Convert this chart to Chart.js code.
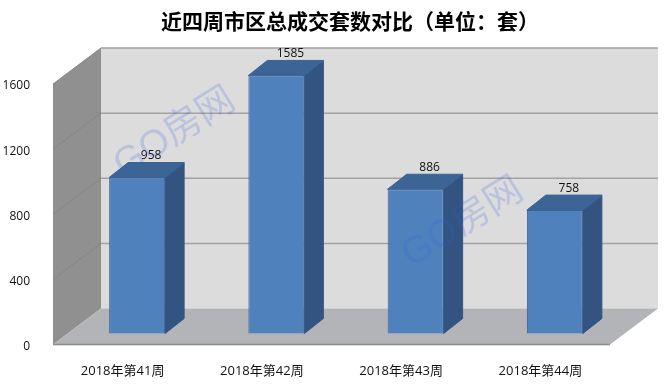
<!DOCTYPE html>
<html><head><meta charset="utf-8">
<style>html,body{margin:0;padding:0;background:#fff}canvas{display:block}</style>
<script src="https://cdn.jsdelivr.net/npm/chart.js@4"></script>
</head><body><canvas id="c" width="667" height="385"></canvas>
<script>
const categories = ['2018年第41周','2018年第42周','2018年第43周','2018年第44周'];
const values = [958,1585,886,758];
const titleText = '近四周市区总成交套数对比（单位：套）';
const watermarkText = 'GO房网';
const yMax = 1600, yStep = 400;

const DEPTH = {x:48, y:-36};           // wall depth
const BAR_SHIFT = {x:14.5, y:-11};     // bar position inside the depth
const BAR_DEPTH = {x:19, y:-15};       // bar own depth
const UI = '"Open Sans","Noto Sans CJK SC",sans-serif';

function poly(ctx, pts, fill, stroke, lw){
  ctx.beginPath();
  pts.forEach((p,i)=> i?ctx.lineTo(p[0],p[1]):ctx.moveTo(p[0],p[1]));
  ctx.closePath();
  if(fill){ctx.fillStyle=fill;ctx.fill();}
  if(stroke){ctx.strokeStyle=stroke;ctx.lineWidth=lw||1;ctx.stroke();}
}
const room = {
  id:'room',
  afterLayout(chart){
    chart.titleBlock.left += 45; chart.titleBlock.right += 45;
  },
  beforeDatasetsDraw(chart){
    const {ctx,chartArea:a,scales:{y}} = chart;
    const dx=DEPTH.x, dy=DEPTH.y;
    ctx.save();
    poly(ctx,[[a.left+dx,a.top+dy],[a.right+dx,a.top+dy],[a.right+dx,a.bottom+dy],[a.left+dx,a.bottom+dy]],'#dcdcdc');
    poly(ctx,[[a.left,a.top],[a.left+dx,a.top+dy],[a.left+dx,a.bottom+dy],[a.left,a.bottom]],'#909090');
    poly(ctx,[[a.left,a.bottom],[a.right,a.bottom],[a.right+dx,a.bottom+dy],[a.left+dx,a.bottom+dy]],'#b2b4b8');
    y.ticks.forEach(t=>{
      const py=y.getPixelForValue(t.value);
      if(t.value>0){
        ctx.strokeStyle='#a2a2a2';ctx.lineWidth=1.5;
        ctx.beginPath();ctx.moveTo(a.left+dx,py+dy);ctx.lineTo(a.right+dx,py+dy);ctx.stroke();
        ctx.strokeStyle='#858585';ctx.lineWidth=1;
        ctx.beginPath();ctx.moveTo(a.left,py);ctx.lineTo(a.left+dx,py+dy);ctx.stroke();
      }
    });
    ctx.strokeStyle='#8a8a8a';ctx.lineWidth=1.5;
    ctx.beginPath();ctx.moveTo(a.left,a.bottom);ctx.lineTo(a.right,a.bottom);ctx.stroke();
    ctx.restore();
  },
  beforeDatasetDraw(chart,args){
    const ctx=chart.ctx;
    ctx.save();
    ctx.translate(BAR_SHIFT.x,BAR_SHIFT.y);
    const dx=BAR_DEPTH.x,dy=BAR_DEPTH.y;
    args.meta.data.forEach(b=>{
      const l=b.x-b.width/2,r=b.x+b.width/2;
      poly(ctx,[[r,b.y],[r+dx,b.y+dy],[r+dx,b.base+dy],[r,b.base]],'#335480','#335480',1);
      poly(ctx,[[l,b.y],[l+dx,b.y+dy],[r+dx,b.y+dy],[r,b.y]],'#3c6494','#3a6496',1);
    });
  },
  afterDatasetDraw(chart){ chart.ctx.restore(); },
  afterDatasetsDraw(chart){
    const ctx=chart.ctx,meta=chart.getDatasetMeta(0);
    ctx.save();
    ctx.font='12px '+UI;ctx.fillStyle='#111';ctx.textAlign='center';ctx.textBaseline='middle';
    meta.data.forEach((b,i)=>{
      ctx.fillText(String(values[i]),b.x+BAR_SHIFT.x+14,b.y+BAR_SHIFT.y+BAR_DEPTH.y-6.5);
    });
    ctx.font='38px "Liberation Sans","Noto Sans CJK SC",sans-serif';
    ctx.fillStyle='rgba(50,95,225,0.2)';
    [[175,133],[463,223]].forEach(([x,y])=>{
      ctx.save();ctx.translate(x,y);ctx.rotate(-32*Math.PI/180);ctx.fillText(watermarkText,0,0);ctx.restore();
    });
    ctx.restore();
  }
};
new Chart(document.getElementById('c'),{
  type:'bar',
  data:{labels:categories,datasets:[{data:values,backgroundColor:'#4f81bd',borderColor:'#3a6496',borderWidth:1,barPercentage:0.402,categoryPercentage:1,clip:false}]},
  plugins:[room],
  options:{
    responsive:false,animation:false,devicePixelRatio:1,
    layout:{padding:{left:0,right:57,top:0,bottom:0}},
    plugins:{
      legend:{display:false},tooltip:{enabled:false},
      title:{display:true,text:titleText,color:'#000',font:{family:'"Noto Sans CJK SC",sans-serif',size:21,weight:'bold',lineHeight:1.2},padding:{top:8,bottom:50.8}}
    },
    scales:{
      x:{grid:{display:false},border:{display:false},
         ticks:{color:'#111',font:{family:UI,size:13},padding:11,maxRotation:0,autoSkip:false},
         afterFit(s){s.height=40.5;}},
      y:{min:0,max:yMax,grid:{display:false},border:{display:false},
         ticks:{stepSize:yStep,color:'#111',font:{family:UI,size:12},padding:15,labelOffset:2,callback:v=>String(v)},
         afterFit(s){s.width=53;}}
    }
  }
});
</script></body></html>
